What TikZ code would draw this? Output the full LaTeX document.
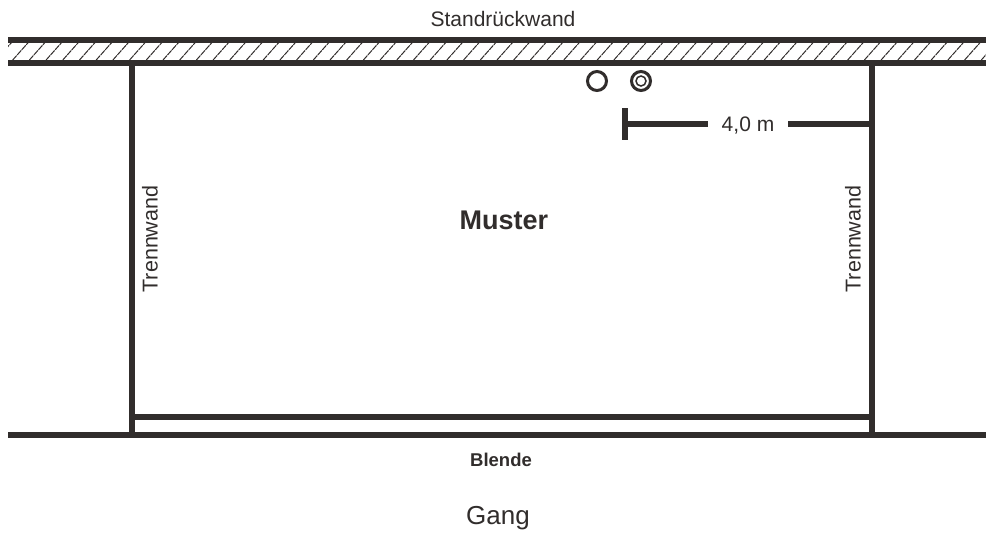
\documentclass[tikz,border=0pt]{standalone}
\usepackage{fontspec}
\setmainfont{Liberation Sans}
\definecolor{wandgrau}{RGB}{49,45,44}
\tikzset{
	wand/.style={draw=wandgrau,line width=6pt},
	schrift/.style={text=wandgrau,inner sep=0pt,font=\fontsize{#1}{#1}\selectfont},
	schrift/.default=21
}
\begin{document}
\begin{tikzpicture}[x=1pt,y=-1pt]
	\useasboundingbox[fill=white](0,0) rectangle (986,533);
	\begin{scope}
		\clip (8,42) rectangle (986,60);
		\foreach \x in {-4,12.7,...,990}
			\draw[wandgrau,line width=1pt,dash pattern=on 6pt off 0.8pt](\x,60)--(\x+16,42);
	\end{scope}
	\coordinate (rueckL) at (8,39.5);
	\coordinate (rueckR) at (986,39.5);
	\coordinate (frontL) at (8,62.5);
	\coordinate (frontR) at (986,62.5);
	\coordinate (gangL) at (8,435);
	\coordinate (gangR) at (986,435);
	\coordinate (trennLo) at (132,62.5);
	\coordinate (trennLu) at (132,435);
	\coordinate (trennRo) at (872,62.5);
	\coordinate (trennRu) at (872,435);
	\coordinate (blendeL) at (132,417);
	\coordinate (blendeR) at (872,417);
	\coordinate (massOben) at (625,108);
	\coordinate (massUnten) at (625,140);
	\coordinate (massL) at (625,124);
	\coordinate (massLe) at (708,124);
	\coordinate (massRa) at (788,124);
	\coordinate (massR) at (872,124);
	\draw[wand](rueckL)--(rueckR);
	\draw[wand](frontL)--(frontR);
	\draw[wand](gangL)--(gangR);
	\draw[wand](trennLo)--(trennLu);
	\draw[wand](trennRo)--(trennRu);
	\draw[wand](blendeL)--(blendeR);
	\draw[wand](massOben)--(massUnten);
	\draw[wand](massL)--(massLe);
	\draw[wand](massRa)--(massR);
	\node[circle,draw=wandgrau,line width=3pt,minimum size=19pt,inner sep=0pt] (anschlussA) at (597,81){};
	\node[circle,draw=wandgrau,line width=3pt,minimum size=19pt,inner sep=0pt] (anschlussB) at (641,81){};
	\node[circle,draw=wandgrau,line width=1.5pt,minimum size=10pt,inner sep=0pt] (anschlussC) at (641,81){};
	\node[schrift,anchor=base] (standwand) at (503,26){Standrückwand};
	\node[schrift,anchor=base] (mass) at (748,131){4,0 m};
	\node[schrift=27,anchor=base] (muster) at (504,229){\bfseries Muster};
	\node[schrift=21.5,rotate=90] (trennA) at (150,239){Trennwand};
	\node[schrift=21.5,rotate=90] (trennB) at (853,239){Trennwand};
	\node[schrift=18.5,anchor=base] (blende) at (501,466){\bfseries Blende};
	\node[schrift=26,anchor=base] (gang) at (498,524){Gang};
\end{tikzpicture}
\end{document}
